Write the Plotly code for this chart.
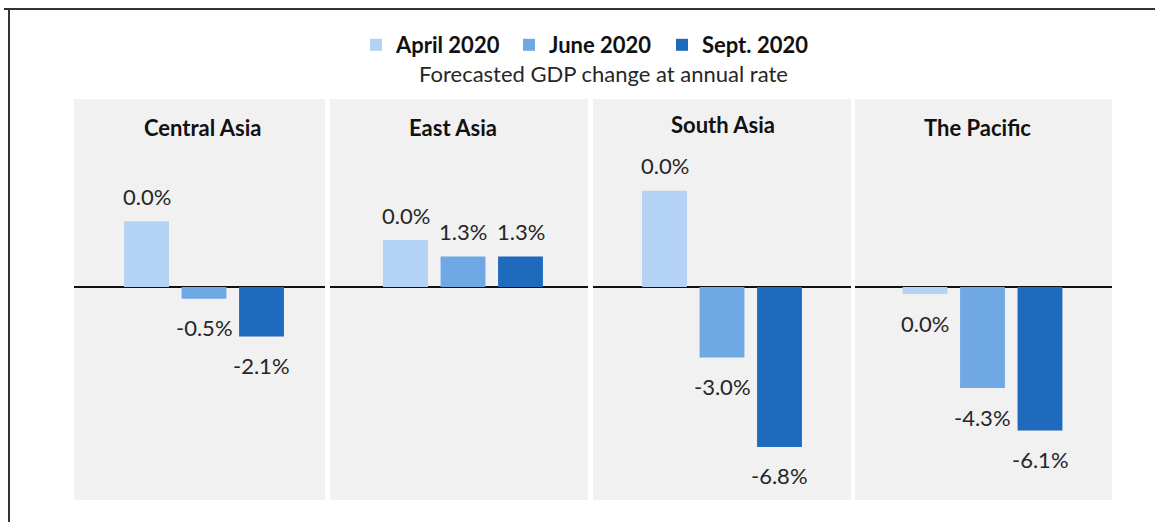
import plotly.graph_objects as go

regions = ["Central Asia", "East Asia", "South Asia", "The Pacific"]
series = ["April 2020", "June 2020", "Sept. 2020"]
# bar heights (% change)
april = [2.8, 2.0, 4.1, -0.3]
june = [-0.5, 1.3, -3.0, -4.3]
sept = [-2.1, 1.3, -6.8, -6.1]
# data labels as printed on the chart
april_labels = ["0.0%", "0.0%", "0.0%", "0.0%"]
june_labels = ["-0.5%", "1.3%", "-3.0%", "-4.3%"]
sept_labels = ["-2.1%", "1.3%", "-6.8%", "-6.1%"]

values = [april, june, sept]
labels = [april_labels, june_labels, sept_labels]
colors = ["#b4d2f3", "#70a8e6", "#1e6bbd"]

W, H = 1155, 522
FONT = "Lato"
FS = 22

# panel pixel boxes
panels_px = [(74, 325), (330, 588), (593, 851), (855, 1112)]
first_bar_px = [146.5, 405.5, 664.5, 925.0]
spacing = 57.5
top_px, bot_px = 99, 500
title_px = [(203, 128), (452.5, 128), (723, 124), (978, 128)]

fig = go.Figure()
layout = {}
for p, region in enumerate(regions):
    ax = "" if p == 0 else str(p + 1)
    x0, x1 = panels_px[p]
    rng = [-(first_bar_px[p] - x0) / spacing, (x1 - first_bar_px[p]) / spacing]
    layout["xaxis" + ax] = dict(domain=[x0 / W, x1 / W], range=rng, visible=False,
                                anchor="y" + ax, fixedrange=True)
    layout["yaxis" + ax] = dict(domain=[1 - bot_px / H, 1 - top_px / H], range=[-9.06, 8.0],
                                anchor="x" + ax, showgrid=False, showticklabels=False,
                                zeroline=True, zerolinecolor="#111111", zerolinewidth=2,
                                showline=False, ticks="", fixedrange=True)
    for i, s in enumerate(series):
        fig.add_trace(go.Bar(
            x=[i], y=[values[i][p]], width=0.78, name=s,
            marker=dict(color=colors[i], line=dict(width=0)),
            legendgroup=s, showlegend=(p == 0),
            xaxis="x" + ax, yaxis="y" + ax, hoverinfo="skip"))

annotations = []
for p in range(len(regions)):
    ax = "" if p == 0 else str(p + 1)
    for i in range(len(series)):
        v = values[i][p]
        annotations.append(dict(
            x=i, y=v, xref="x" + ax, yref="y" + ax, text=labels[i][p],
            showarrow=False, yshift=25 if v >= 0 else -29, yanchor="middle",
            font=dict(family=FONT, size=FS, color="#262626")))
    tx, ty = title_px[p]
    annotations.append(dict(
        x=tx / W, y=1 - ty / H, xref="paper", yref="paper", text=regions[p],
        showarrow=False, xanchor="center", yanchor="middle",
        font=dict(family=FONT, size=FS, color="#111111", weight="bold")))

annotations.append(dict(
    x=603 / W, y=1 - 74 / H, xref="paper", yref="paper",
    text="Forecasted GDP change at annual rate", showarrow=False,
    xanchor="center", yanchor="middle",
    font=dict(family=FONT, size=FS, color="#262626")))

shapes = [
    dict(type="line", xref="paper", yref="paper", x0=4 / W, x1=1, y0=1 - 9 / H, y1=1 - 9 / H,
         line=dict(color="#333333", width=2)),
    dict(type="line", xref="paper", yref="paper", x0=9 / W, x1=9 / W, y0=1 - 9 / H, y1=0,
         line=dict(color="#333333", width=2)),
]

fig.update_layout(
    width=W, height=H, margin=dict(l=0, r=0, t=0, b=0),
    paper_bgcolor="white", plot_bgcolor="#f1f1f1",
    barmode="overlay", showlegend=True,
    legend=dict(orientation="h", x=356 / W, xanchor="left", y=1 - 45 / H, yanchor="middle",
                bgcolor="rgba(0,0,0,0)",
                font=dict(family=FONT, size=FS, color="#111111", weight="bold"),
                itemwidth=30, entrywidth=108, entrywidthmode="pixels", traceorder="normal"),
    annotations=annotations, shapes=shapes,
    font=dict(family=FONT),
    **layout)

fig.write_html("out.html", config={"displayModeBar": False},
               post_script="document.body.style.margin='0';document.body.style.overflow='hidden';")
